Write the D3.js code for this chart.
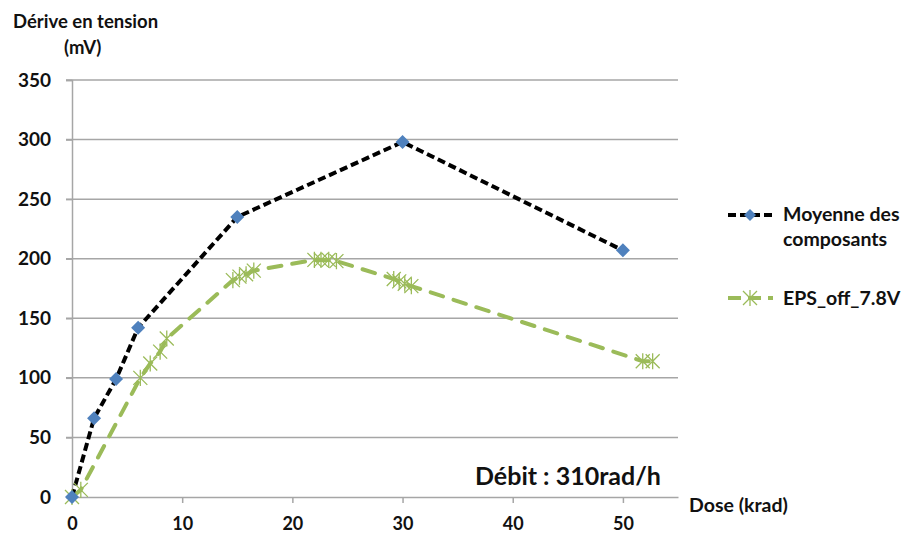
<!DOCTYPE html>
<html><head><meta charset="utf-8">
<script src="https://cdn.jsdelivr.net/npm/d3@7"></script>
<style>
body{margin:0;background:#fff;}
text{font-family:Lato,"Open Sans",sans-serif;font-weight:bold;fill:#111;}
</style></head>
<body><svg id="c" width="902" height="536"></svg>
<script>
const moyDose = [0, 2, 4, 6, 15, 30, 50];
const moyVal  = [0, 66, 99, 142, 235, 298, 207];
const epsDose = [0, 0.8, 6.2, 7.1, 8.0, 8.6, 14.6, 15.2, 15.8, 16.5, 22.0, 22.6, 23.3, 24.0, 29.2, 29.7, 30.2, 30.8, 51.8, 52.7];
const epsVal  = [0, 6, 100, 112, 122, 133, 182, 185, 187, 190, 199, 199, 199, 198, 183, 181, 179, 177, 114, 114];
const yTicks = [0, 50, 100, 150, 200, 250, 300, 350];
const xTicks = [0, 10, 20, 30, 40, 50];
const seriesNames = ["Moyenne des|composants", "EPS_off_7.8V"];

const svg = d3.select("#c");
const x = d3.scaleLinear().domain([0, 55]).range([72, 678]);
const y = d3.scaleLinear().domain([0, 350]).range([497, 80]);
const grid = "#a6a6a6";

// gridlines
svg.append("g").selectAll("line").data(yTicks.filter(d=>d>0)).join("line")
  .attr("x1", 66).attr("x2", 678).attr("y1", d=>y(d)).attr("y2", d=>y(d))
  .attr("stroke", grid).attr("stroke-width", 1.5);
// y axis
const yAxis = d3.axisLeft(y).tickValues(yTicks).tickSize(6).tickPadding(15).tickFormat(d3.format("d"));
const ga = svg.append("g").attr("transform", "translate(72,0)").call(yAxis);
ga.select(".domain").attr("stroke", grid).attr("stroke-width", 1.5);
ga.selectAll(".tick line").attr("stroke", grid).attr("stroke-width", 1.5);
ga.selectAll("text").attr("font-size", 19).attr("font-family", "Lato").attr("font-weight", "bold").attr("fill", "#111");
// x axis
const xAxis = d3.axisBottom(x).tickValues(xTicks).tickSize(6).tickPadding(14).tickSizeOuter(0).tickFormat(d3.format("d"));
const gx = svg.append("g").attr("transform", "translate(0,497)").call(xAxis);
gx.select(".domain").attr("stroke", grid).attr("stroke-width", 1.5);
gx.selectAll(".tick line").attr("stroke", grid).attr("stroke-width", 1.5);
gx.selectAll("text").attr("font-size", 18).attr("font-family", "Lato").attr("font-weight", "bold").attr("fill", "#111");

// lines
const moy = moyDose.map((d,i)=>[d, moyVal[i]]);
const eps = epsDose.map((d,i)=>[d, epsVal[i]]);
const line = d3.line().x(d=>x(d[0])).y(d=>y(d[1]));
svg.append("path").attr("d", line(eps)).attr("fill","none").attr("stroke","#9bbb59")
  .attr("stroke-width",4).attr("stroke-dasharray","13,11").attr("stroke-linecap","round");
svg.append("path").attr("d", line(moy)).attr("fill","none").attr("stroke","#000")
  .attr("stroke-width",4).attr("stroke-dasharray","8,4");

function star(g, cx, cy, r) {
  g.append("path").attr("d",
    `M${cx-r},${cy-r}L${cx+r},${cy+r}M${cx-r},${cy+r}L${cx+r},${cy-r}M${cx},${cy-r*1.15}L${cx},${cy+r*1.15}`)
    .attr("stroke","#9bbb59").attr("stroke-width",1.3).attr("fill","none");
}
function diamond(g, cx, cy, r) {
  g.append("path").attr("d", `M${cx},${cy-r}L${cx+r},${cy}L${cx},${cy+r}L${cx-r},${cy}Z`)
    .attr("fill","#4f81bd");
}
const mk = svg.append("g");
eps.forEach(d=>star(mk, x(d[0]), y(d[1]), 7));
moy.forEach(d=>diamond(mk, x(d[0]), y(d[1]), 7));

// legend
const lg = svg.append("g");
lg.append("line").attr("x1",728).attr("x2",773).attr("y1",215).attr("y2",215)
  .attr("stroke","#000").attr("stroke-width",4).attr("stroke-dasharray","8,4");
diamond(lg, 750, 215, 6);
lg.append("line").attr("x1",728).attr("x2",773).attr("y1",298).attr("y2",298)
  .attr("stroke","#9bbb59").attr("stroke-width",4).attr("stroke-dasharray","13,7");
star(lg, 750, 298, 7);
const n0 = seriesNames[0].split("|");
lg.append("text").attr("x",783).attr("y",221).attr("font-size",19.5).text(n0[0]);
lg.append("text").attr("x",783).attr("y",246).attr("font-size",19.5).text(n0[1]);
lg.append("text").attr("x",783).attr("y",305).attr("font-size",19.5).text(seriesNames[1]);

// titles
svg.append("text").attr("x",13).attr("y",28).attr("font-size",18.5).text("Dérive en tension");
svg.append("text").attr("x",64).attr("y",54).attr("font-size",18.5).text("(mV)");
svg.append("text").attr("x",689).attr("y",512).attr("font-size",19.5).text("Dose (krad)");
svg.append("text").attr("x",475).attr("y",485).attr("font-size",25).text("Débit : 310rad/h");
</script></body></html>
